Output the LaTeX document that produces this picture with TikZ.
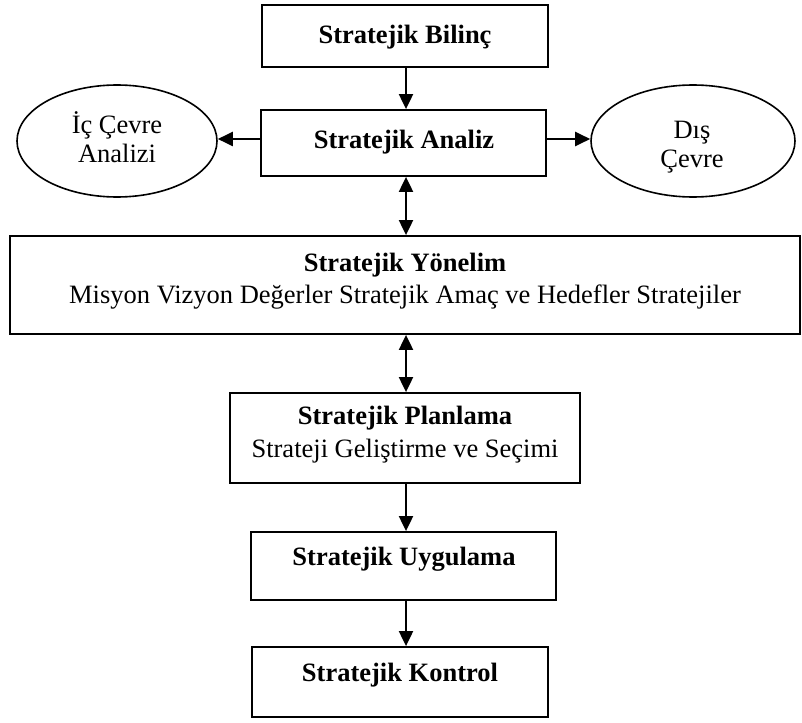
\documentclass[tikz,border=0pt]{standalone}
\usepackage{fontspec}
\setmainfont{Liberation Serif}
\usetikzlibrary{arrows.meta,shapes.geometric}

\begin{document}
\begin{tikzpicture}[x=1pt,y=-1pt,
  box/.style={draw, line width=1.8pt, rectangle, inner sep=0pt},
  oval/.style={draw, line width=1.6pt, ellipse, inner sep=0pt},
  txt/.style={font=\fontsize{26.5}{32}\selectfont, align=center, inner sep=0pt},
  ovaltxt/.style={txt, font=\fontsize{26.5}{28.5}\selectfont},
  tip/.tip={Triangle[length=15pt,width=14pt]},
  conn/.style={line width=2pt, -tip},
  twoway/.style={line width=2pt, tip-tip}
]
\useasboundingbox (0,0) rectangle (802,722);
\fill[white] (0,0) rectangle (802,722);

% spine on which the vertical connectors run, and the level of the side arrows
\coordinate (spine) at (406,0);
\coordinate (side) at (0,139);

% boxes
\node[box, minimum width=286pt, minimum height=62pt] (bilinc)   at (405,36) {};
\node[box, minimum width=285pt, minimum height=66pt] (analiz)   at (403.5,143) {};
\node[oval, minimum width=200pt, minimum height=112pt] (ic)     at (117,141) {};
\node[oval, minimum width=204pt, minimum height=112pt] (dis)    at (693,141) {};
\node[box, minimum width=790pt, minimum height=98pt] (yonelim)  at (405,285) {};
\node[box, minimum width=350pt, minimum height=90pt] (planlama) at (405,438) {};
\node[box, minimum width=305pt, minimum height=68pt] (uygulama) at (403.5,566) {};
\node[box, minimum width=296pt, minimum height=70pt] (kontrol)  at (400,682) {};

% labels
\node[txt] (tBilinc)   at (405,37)  {\textbf{Stratejik Bilinç}};
\node[txt] (tAnaliz)   at (404,142) {\textbf{Stratejik Analiz}};
\node[ovaltxt] (tIc)  at (117,137) {İç Çevre\\Analizi};
\node[ovaltxt] (tDis) at (692,147) {Dış\\Çevre};
\node[txt] (tYonelim)  at (405,281) {\textbf{Stratejik Yönelim}\\Misyon Vizyon Değerler Stratejik Amaç ve Hedefler Stratejiler};
\node[txt, font=\fontsize{26.5}{33}\selectfont] (tPlanlama) at (405,435) {\textbf{Stratejik Planlama}\\Strateji Geliştirme ve Seçimi};
\node[txt] (tUygulama) at (404,559) {\textbf{Stratejik Uygulama}};
\node[txt] (tKontrol)  at (400,675) {\textbf{Stratejik Kontrol}};

% connectors
\draw[conn] (bilinc.south -| spine) -- (analiz.north -| spine);
\draw[conn] (analiz.west |- side) -- (ic.east |- side);
\draw[conn] (analiz.east |- side) -- (dis.west |- side);
\draw[twoway] (analiz.south -| spine) -- (yonelim.north -| spine);
\draw[twoway] (yonelim.south -| spine) -- (planlama.north -| spine);
\draw[conn] (planlama.south -| spine) -- (uygulama.north -| spine);
\draw[conn] (uygulama.south -| spine) -- (kontrol.north -| spine);
\end{tikzpicture}
\end{document}
